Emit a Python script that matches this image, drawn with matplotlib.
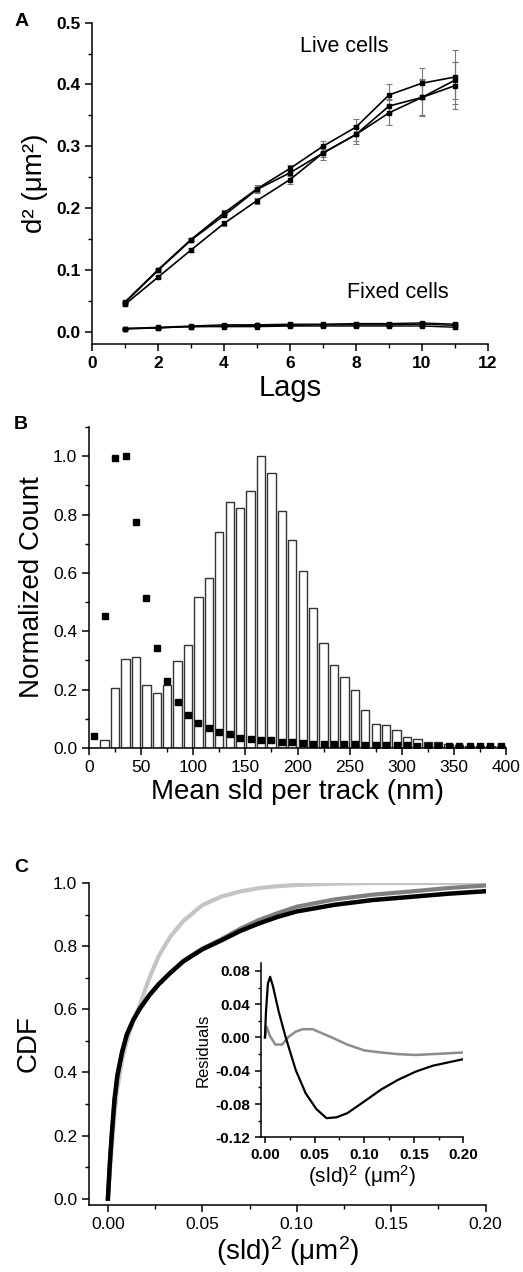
import numpy as np
import matplotlib
matplotlib.use("Agg")
import matplotlib.pyplot as plt
from matplotlib.ticker import MultipleLocator

plt.rcParams['font.family'] = ['Liberation Sans', 'DejaVu Sans']
plt.rcParams['mathtext.default'] = 'regular'
plt.rcParams['axes.linewidth'] = 1.1

# panel A: d^2 vs lags
lags = [1, 2, 3, 4, 5, 6, 7, 8, 9, 10, 11]
live1 = [0.048, 0.100, 0.149, 0.192, 0.231, 0.264, 0.300, 0.331, 0.383, 0.402, 0.412]
live2 = [0.047, 0.099, 0.148, 0.188, 0.230, 0.257, 0.289, 0.319, 0.365, 0.379, 0.407]
live3 = [0.044, 0.088, 0.132, 0.175, 0.212, 0.246, 0.289, 0.319, 0.354, 0.379, 0.398]
live1_err = [0.002, 0.002, 0.003, 0.004, 0.006, 0.006, 0.009, 0.013, 0.017, 0.025, 0.043]
live2_err = [0.002, 0.002, 0.002, 0.003, 0.004, 0.005, 0.007, 0.010, 0.012, 0.030, 0.030]
live3_err = [0.002, 0.002, 0.003, 0.004, 0.005, 0.007, 0.011, 0.015, 0.020, 0.028, 0.038]
fixed1 = [0.005, 0.007, 0.009, 0.011, 0.011, 0.012, 0.012, 0.013, 0.013, 0.014, 0.012]
fixed2 = [0.005, 0.006, 0.008, 0.009, 0.010, 0.010, 0.011, 0.011, 0.011, 0.012, 0.010]
fixed3 = [0.004, 0.006, 0.008, 0.008, 0.008, 0.009, 0.009, 0.009, 0.009, 0.009, 0.007]
fixed_err = [0.001, 0.001, 0.001, 0.001, 0.001, 0.001, 0.001, 0.002, 0.002, 0.002, 0.002]

# panel B: histogram of mean sld per track
bin_centers = np.arange(5, 400, 10)
live_hist = [0.0, 0.027, 0.204, 0.305, 0.313, 0.217, 0.19, 0.217, 0.298, 0.353,
             0.518, 0.583, 0.739, 0.843, 0.823, 0.879, 1.0, 0.943, 0.813, 0.712,
             0.606, 0.478, 0.361, 0.284, 0.244, 0.199, 0.13, 0.083, 0.08, 0.06,
             0.038, 0.031, 0.02, 0.022, 0.012, 0.01, 0.008, 0.007, 0.006, 0.005]
fixed_hist = [0.04, 0.453, 0.993, 1.0, 0.773, 0.515, 0.341, 0.23, 0.158, 0.114,
              0.085, 0.07, 0.054, 0.047, 0.034, 0.03, 0.028, 0.026, 0.02, 0.022,
              0.017, 0.015, 0.014, 0.013, 0.012, 0.012, 0.011, 0.01, 0.01, 0.009,
              0.009, 0.008, 0.008, 0.007, 0.007, 0.006, 0.006, 0.006, 0.005, 0.005]

# panel C: CDFs of squared sld
sld2 = [0, 0.001, 0.002, 0.0035, 0.005, 0.0075, 0.01, 0.0135, 0.017, 0.022, 0.027,
        0.033, 0.04, 0.05, 0.06, 0.07, 0.08, 0.09, 0.10, 0.12, 0.14, 0.16, 0.18, 0.20]
cdf_black = [0, 0.11, 0.2, 0.315, 0.39, 0.465, 0.52, 0.567, 0.603, 0.645, 0.68,
             0.715, 0.752, 0.79, 0.818, 0.848, 0.872, 0.893, 0.91, 0.931, 0.946,
             0.956, 0.966, 0.974]
cdf_gray = [0, 0.105, 0.195, 0.31, 0.385, 0.462, 0.517, 0.566, 0.603, 0.645, 0.68,
            0.716, 0.754, 0.792, 0.822, 0.855, 0.883, 0.905, 0.925, 0.948, 0.963,
            0.973, 0.984, 0.992]
cdf_light = [0, 0.08, 0.16, 0.27, 0.35, 0.44, 0.50, 0.565, 0.615, 0.70, 0.77,
             0.83, 0.88, 0.93, 0.957, 0.973, 0.984, 0.99, 0.994, 0.998, 1.0,
             1.0, 1.0, 1.0]

# inset: residuals
res_x_black = [0, 0.001, 0.003, 0.0052, 0.008, 0.0138, 0.0207, 0.031, 0.041, 0.0518,
               0.062, 0.072, 0.083, 0.1, 0.117, 0.134, 0.152, 0.169, 0.2]
res_black = [0.0, 0.03, 0.065, 0.073, 0.062, 0.0315, 0.001, -0.039, -0.067, -0.086,
             -0.097, -0.096, -0.091, -0.077, -0.0626, -0.051, -0.041, -0.034, -0.026]
res_x_gray = [0, 0.0017, 0.005, 0.0104, 0.0173, 0.024, 0.031, 0.038, 0.048, 0.0656,
              0.083, 0.1, 0.117, 0.134, 0.152, 0.169, 0.2]
res_gray = [0.0, 0.013, 0.002, -0.0085, -0.0085, 0.001, 0.007, 0.010, 0.010, 0.001,
            -0.0085, -0.0155, -0.018, -0.020, -0.021, -0.020, -0.018]


def style(ax, size=12.5, weight='normal'):
    ax.spines['top'].set_visible(False)
    ax.spines['right'].set_visible(False)
    ax.tick_params(which='major', direction='out', length=5, width=1.1,
                   labelsize=size)
    ax.tick_params(which='minor', direction='out', length=3, width=1.0)
    for lab in ax.get_xticklabels() + ax.get_yticklabels():
        lab.set_fontweight(weight)


fig = plt.figure(figsize=(5.23, 12.72), dpi=100)

# ---- A
ax = fig.add_axes([0.1759, 0.7296, 0.7572, 0.2526])
for y, e in [(live1, live1_err), (live2, live2_err), (live3, live3_err)]:
    ax.errorbar(lags, y, yerr=e, fmt='none', ecolor='#777777', elinewidth=0.8,
                capsize=2.5, capthick=0.8, zorder=1)
    ax.plot(lags, y, '-s', color='black', lw=1.2, ms=2.8, zorder=2)
for y in [fixed1, fixed2, fixed3]:
    ax.errorbar(lags, y, yerr=fixed_err, fmt='none', ecolor='#777777',
                elinewidth=0.8, capsize=2, capthick=0.8, zorder=1)
    ax.plot(lags, y, '-s', color='black', lw=1.0, ms=2.6, zorder=2)
ax.set_xlim(0, 12)
ax.set_ylim(-0.02, 0.5)
ax.set_xticks([0, 2, 4, 6, 8, 10, 12])
ax.set_yticks([0.0, 0.1, 0.2, 0.3, 0.4, 0.5])
ax.xaxis.set_minor_locator(MultipleLocator(1))
ax.yaxis.set_minor_locator(MultipleLocator(0.05))
style(ax, 12.5, 'bold')
ax.set_xlabel('Lags', fontsize=21, labelpad=2)
ax.set_ylabel('d² (μm²)', fontsize=20, labelpad=6)
ax.text(7.65, 0.461, 'Live cells', fontsize=15.5, ha='center', va='center')
ax.text(9.27, 0.063, 'Fixed cells', fontsize=15.5, ha='center', va='center')
fig.text(0.042, 0.983, 'A', fontsize=14, fontweight='bold', ha='center', va='center')

# ---- B
ax = fig.add_axes([0.1702, 0.4120, 0.7973, 0.2523])
ax.bar(bin_centers, live_hist, width=8.0, facecolor='white', edgecolor='#333333',
       linewidth=1.0, zorder=1)
ax.plot(bin_centers, fixed_hist, 's', color='black', ms=5, zorder=3)
ax.set_xlim(0, 400)
ax.set_ylim(0, 1.1)
ax.set_xticks(np.arange(0, 401, 50))
ax.set_yticks([0.0, 0.2, 0.4, 0.6, 0.8, 1.0])
ax.xaxis.set_minor_locator(MultipleLocator(25))
ax.yaxis.set_minor_locator(MultipleLocator(0.1))
style(ax, 12.5)
ax.set_xlabel('Mean sld per track (nm)', fontsize=20, labelpad=3)
ax.set_ylabel('Normalized Count', fontsize=20, labelpad=6)
fig.text(0.040, 0.666, 'B', fontsize=14, fontweight='bold', ha='center', va='center')

# ---- C
ax = fig.add_axes([0.1702, 0.0527, 0.7585, 0.2531])
ax.plot(sld2, cdf_light, color='#c4c4c4', lw=3.0, zorder=1)
ax.plot(sld2, cdf_gray, color='#7f7f7f', lw=3.0, zorder=2)
ax.plot(sld2, cdf_black, color='black', lw=3.2, zorder=3)
ax.set_xlim(-0.01, 0.20)
ax.set_ylim(-0.02, 1.0)
ax.set_xticks([0.0, 0.05, 0.10, 0.15, 0.20])
ax.set_xticklabels(['0.00', '0.05', '0.10', '0.15', '0.20'])
ax.set_yticks([0.0, 0.2, 0.4, 0.6, 0.8, 1.0])
ax.xaxis.set_minor_locator(MultipleLocator(0.025))
ax.yaxis.set_minor_locator(MultipleLocator(0.1))
style(ax, 12.5)
ax.set_xlabel('(sld)$^2$ ($\\mu$m$^2$)', fontsize=20, labelpad=2)
ax.set_ylabel('CDF', fontsize=20, labelpad=8)
fig.text(0.040, 0.318, 'C', fontsize=14, fontweight='bold', ha='center', va='center')

# inset
ins = fig.add_axes([0.499, 0.1059, 0.387, 0.1373])
ins.plot(res_x_gray, res_gray, color='#8c8c8c', lw=1.8)
ins.plot(res_x_black, res_black, color='black', lw=1.6)
ins.set_xlim(-0.004, 0.20)
ins.set_ylim(-0.12, 0.09)
ins.set_xticks([0.0, 0.05, 0.10, 0.15, 0.20])
ins.set_xticklabels(['0.00', '0.05', '0.10', '0.15', '0.20'])
ins.set_yticks([-0.12, -0.08, -0.04, 0.0, 0.04, 0.08])
ins.set_yticklabels(['-0.12', '-0.08', '-0.04', '0.00', '0.04', '0.08'])
ins.xaxis.set_minor_locator(MultipleLocator(0.025))
ins.yaxis.set_minor_locator(MultipleLocator(0.02))
style(ins, 11, 'bold')
ins.tick_params(which='major', length=4)
ins.tick_params(which='minor', length=2)
ins.set_xlabel('(sld)$^2$ ($\\mu$m$^2$)', fontsize=15, labelpad=1)
ins.set_ylabel('Residuals', fontsize=12, labelpad=4)

fig.savefig('out.png', dpi=100)
